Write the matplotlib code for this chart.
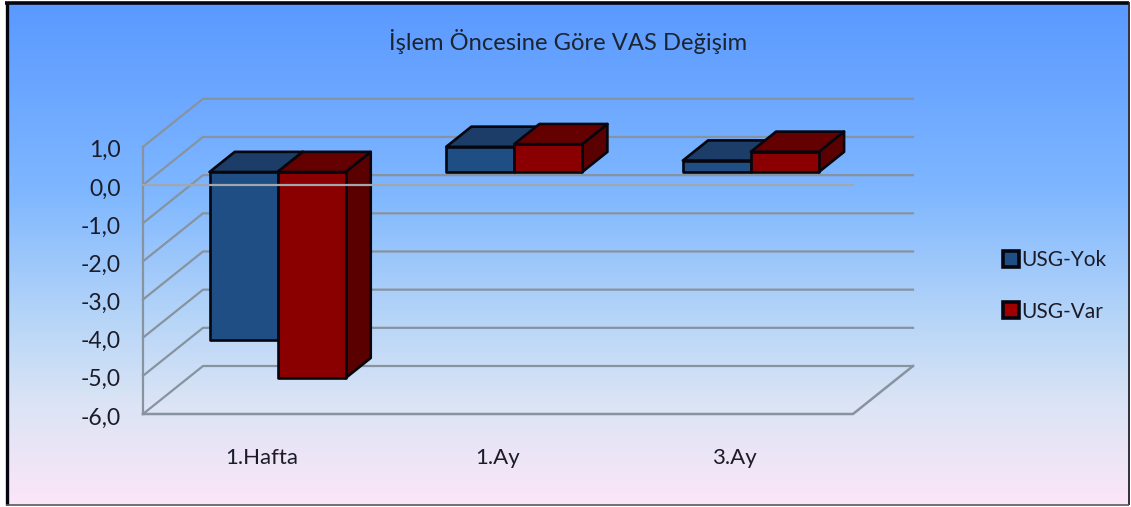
import numpy as np
import matplotlib as mpl
mpl.use('Agg')
import matplotlib.pyplot as plt
from matplotlib.colors import LinearSegmentedColormap
from matplotlib.patches import Polygon, Rectangle
from matplotlib.transforms import ScaledTranslation

categories = ["1.Hafta", "1.Ay", "3.Ay"]
usg_yok = [-4.4, 0.66, 0.3]
usg_var = [-5.4, 0.73, 0.53]
y_ticks = [1, 0, -1, -2, -3, -4, -5, -6]
y_labels = ["1,0", "0,0", "-1,0", "-2,0", "-3,0", "-4,0", "-5,0", "-6,0"]

W, H = 1131, 507
plt.rcParams['font.family'] = ['Lato', 'DejaVu Sans']

# oblique projection of the chart depth, in axis units
wall_dx = 60 / 710 * 3
wall_dy = 48 / 38.17
near = 0.27
far = 0.69
bar_w = 68 / 710 * 3

grid_col = "#87939f"
blue = ("#1f4e85", "#1c3d68", "#17365e")
red = ("#8a0000", "#640000", "#5a0000")

fig = plt.figure(figsize=(W / 100, H / 100), dpi=100, facecolor="white")

# background panel with its border, heavier on the top and left
bg = fig.add_axes([0, 0, 1, 1])
bg.axis("off")
cmap = LinearSegmentedColormap.from_list("panel", [
    (0.0, "#5a99ff"), (0.38, "#7fb7ff"), (0.62, "#b4d4f8"),
    (0.8, "#dbe4f5"), (1.0, "#fbe6f8")])
grad = np.linspace(0, 1, 256).reshape(-1, 1)
bg.imshow(grad, cmap=cmap, aspect="auto", extent=(7, 1128, 504, 3), zorder=0)
bg.set_xlim(0, W)
bg.set_ylim(H, 0)
bg.plot([6.5, 6.5], [2, 505], color="#050510", lw=2.4, zorder=2, solid_capstyle="butt")
bg.plot([5, 1129], [3, 3], color="#050510", lw=2.6, zorder=2, solid_capstyle="butt")
bg.plot([1128.5, 1128.5], [2, 505], color="#20202c", lw=1.3, zorder=2, solid_capstyle="butt")
bg.plot([6, 1129], [504.8, 504.8], color="#55555f", lw=1.2, zorder=2, solid_capstyle="butt")

ax = fig.add_axes([143 / W, 1 - 414 / H, 710 / W, (414 - 146.8) / H])
ax.patch.set_alpha(0)
ax.set_xlim(0, 3)
ax.set_ylim(-6, 1)
for s in ax.spines.values():
    s.set_visible(False)

# walls: left axis, diagonals, back lines
ax.plot([0, 0], [-6, 1], color=grid_col, lw=1.6, clip_on=False, zorder=1)
for v in y_ticks:
    ax.plot([0, wall_dx, 3 + wall_dx], [v, v + wall_dy, v + wall_dy],
            color=grid_col, lw=1.6, clip_on=False, zorder=1)
ax.plot([0, 3, 3 + wall_dx], [-6, -6, -6 + wall_dy],
        color=grid_col, lw=1.8, clip_on=False, zorder=1)


def bar3d(x0, val, cols, z):
    dx0, dy0 = wall_dx * near, wall_dy * near
    dx1, dy1 = wall_dx * far, wall_dy * far
    xl, xr = x0 + dx0, x0 + bar_w + dx0
    hi, lo = max(val, 0), min(val, 0)
    faces = [
        (cols[2], [(xr, lo + dy0), (xr, hi + dy0), (x0 + bar_w + dx1, hi + dy1), (x0 + bar_w + dx1, lo + dy1)]),
        (cols[1], [(xl, hi + dy0), (xr, hi + dy0), (x0 + bar_w + dx1, hi + dy1), (x0 + dx1, hi + dy1)]),
        (cols[0], [(xl, lo + dy0), (xr, lo + dy0), (xr, hi + dy0), (xl, hi + dy0)]),
    ]
    for col, pts in faces:
        ax.add_patch(Polygon(pts, closed=True, fc=col, ec="#06060f", lw=1.9,
                             joinstyle="round", clip_on=False, zorder=z))


for i in range(len(categories)):
    left = i + 0.5 - bar_w
    bar3d(left, usg_yok[i], blue, 3)
    bar3d(left + bar_w, usg_var[i], red, 4)

# zero line runs across the bars
ax.plot([0, 3], [0, 0], color="#a3a6aa", lw=1.6, zorder=6, clip_on=False)

ax.set_yticks(y_ticks)
ax.set_yticklabels(y_labels, fontsize=16.5, color="#1c1c28")
ax.set_xticks([i + 0.5 for i in range(len(categories))])
ax.set_xticklabels(categories, fontsize=16, color="#1c1c28")
ax.tick_params(axis="y", length=0, pad=16)
ax.tick_params(axis="x", length=0, pad=24.5)
drop = ScaledTranslation(0, -2 / 100, fig.dpi_scale_trans)
for label in ax.get_yticklabels():
    label.set_transform(label.get_transform() + drop)

fig.text(568 / W, 1 - 42 / H, "İşlem Öncesine Göre VAS Değişim", ha="center", va="center",
         fontsize=17.1, color="#1c2430")

handles = [Rectangle((0, 0), 1, 1, fc=blue[0], ec="#050510", lw=2.6),
           Rectangle((0, 0), 1, 1, fc="#a00000", ec="#050510", lw=2.6)]
fig.legend(handles, ["USG-Yok", "USG-Var"], loc="center left",
           bbox_to_anchor=(984 / W, 1 - 286 / H), frameon=False, fontsize=15,
           handlelength=0.77, handleheight=0.8, handletextpad=0.12, labelspacing=1.5,
           labelcolor="#1c1c28")

fig.savefig("out.png", dpi=100)
